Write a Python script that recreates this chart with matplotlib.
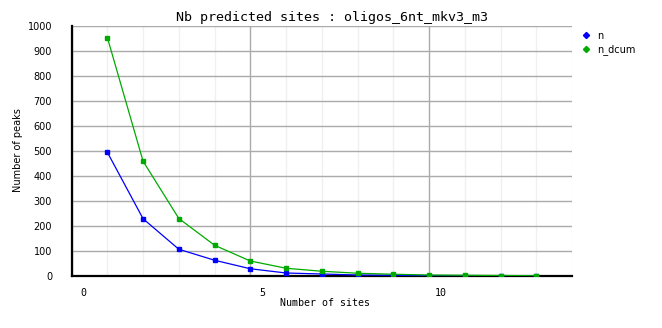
import matplotlib
matplotlib.use("Agg")
import matplotlib.pyplot as plt
import matplotlib.transforms as mtransforms
from matplotlib.ticker import MultipleLocator

sites = [1, 2, 3, 4, 5, 6, 7, 8, 9, 10, 11, 12, 13]
n = [495, 229, 107, 63, 29, 12, 8, 4, 3, 1, 1, 1, 1]
n_dcum = [954, 459, 230, 123, 60, 31, 19, 11, 7, 4, 3, 2, 1]
xticks = [0, 5, 10]
yticks = list(range(0, 1001, 100))

W, H = 662, 328
fig = plt.figure(figsize=(W / 100, H / 100), dpi=100)
left, right, top, bottom = 71.6, 572, 26, 276
ax = fig.add_axes([left / W, 1 - bottom / H, (right - left) / W, (bottom - top) / H])

blue = "#0000ff"
green = "#00aa00"
ax.plot(sites, n, color=blue, lw=0.9, marker="s", ms=2.6, mec=blue, mfc=blue, label="n", zorder=3)
ax.plot(sites, n_dcum, color=green, lw=0.9, marker="s", ms=2.6, mec=green, mfc=green, label="n_dcum", zorder=3)

ax.set_xlim(0, 14)
ax.set_ylim(0, 1000)
ax.set_xticks(xticks)
ax.xaxis.set_minor_locator(MultipleLocator(1))
ax.set_yticks(yticks)

ax.grid(which="minor", axis="x", color="#f0f0f0", lw=1)
ax.grid(which="major", axis="x", color="#aaaaaa", lw=1)
ax.grid(which="major", axis="y", color="#aaaaaa", lw=1)
ax.set_axisbelow(True)

for s in ["top", "right"]:
    ax.spines[s].set_visible(False)
ax.spines["left"].set_linewidth(1.6)
ax.spines["bottom"].set_linewidth(1.6)

ax.tick_params(which="both", length=0)
ax.tick_params(axis="y", pad=14, labelsize=7)
ax.tick_params(axis="x", pad=9, labelsize=7.2)
for lab in ax.get_yticklabels():
    lab.set_family("DejaVu Sans")
for lab in ax.get_xticklabels():
    lab.set_family("DejaVu Sans Mono")
    lab.set_transform(lab.get_transform() + mtransforms.ScaledTranslation(12 / 100, 0, fig.dpi_scale_trans))

fig.text(332 / W, 1 - 18 / H, "Nb predicted sites : oligos_6nt_mkv3_m3", ha="center", va="center",
         family="DejaVu Sans Mono", fontsize=9.6)
fig.text(325 / W, 1 - 303 / H, "Number of sites", ha="center", va="center",
         family="DejaVu Sans Mono", fontsize=7.2)
fig.text(18 / W, 1 - 150 / H, "Number of peaks", ha="center", va="center", rotation=90,
         family="DejaVu Sans", fontsize=7)

leg = ax.legend(loc="upper left", bbox_to_anchor=(577 / W, 1 - 26 / H), bbox_transform=fig.transFigure,
                frameon=False, prop={"family": "DejaVu Sans", "size": 7}, handlelength=0.8,
                handletextpad=0.8, labelspacing=0.35, borderpad=0, markerscale=1.2)
for h in leg.legend_handles:
    h.set_linestyle("none")
    h.set_marker("D")

fig.savefig("out.png", dpi=100)
